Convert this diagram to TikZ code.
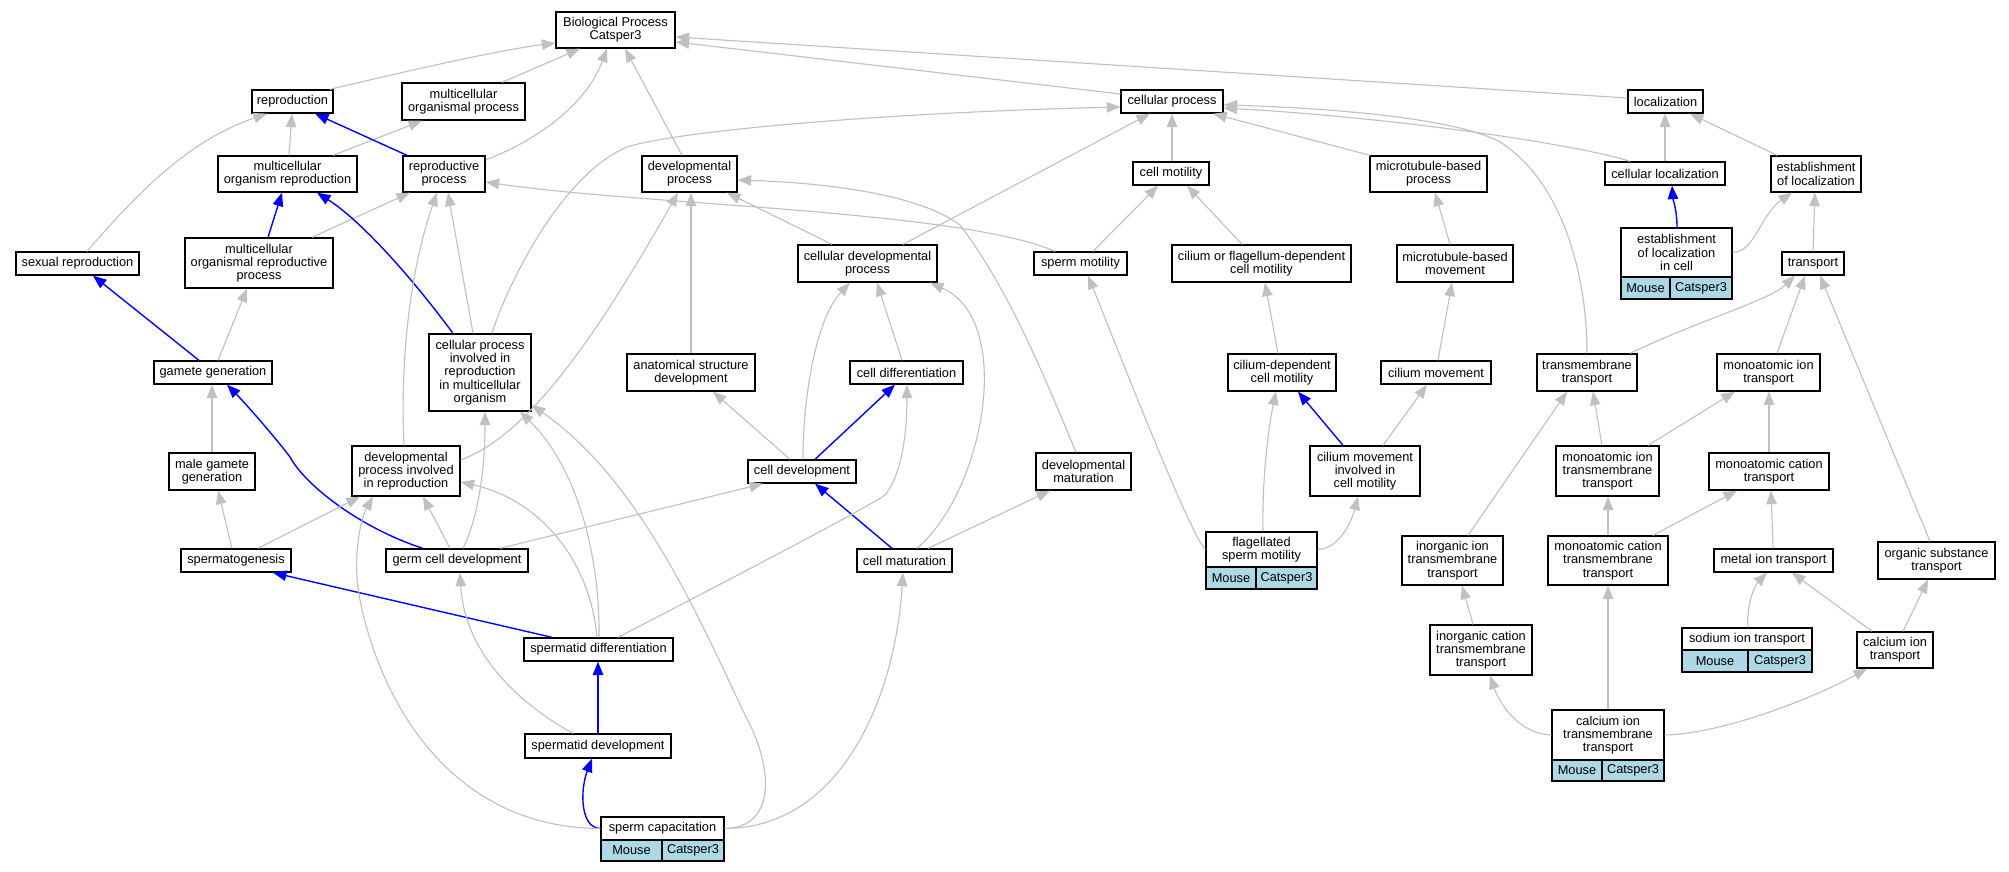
\documentclass[tikz,border=0pt]{standalone}
\usepackage{fontspec}
\setmainfont{Liberation Sans}
\usetikzlibrary{arrows.meta}
\definecolor{edgegray}{HTML}{C0C0C0}
\definecolor{cellblue}{HTML}{ADD8E6}
\newcommand\gvfont{\fontsize{12.8pt}{13.3pt}\selectfont}
\newcommand\gvbox[6]{\node[box,minimum width=#4pt,minimum height=#5pt] (#1) at (#2,#3) {#6};}
\newcommand\gvcell[6]{\node[cell,minimum width=#4pt,minimum height=#5pt] (#1) at (#2,#3) {#6};}
\begin{document}
\begin{tikzpicture}[x=1pt,y=-1pt,
 box/.style={draw=black,line width=1.3pt,fill=white,rectangle,align=center,inner sep=0pt,font=\gvfont},
 cell/.style={box,fill=cellblue},
 ge/.style={draw=edgegray,line width=1.1pt,-{Triangle[length=13.5pt,width=10.5pt]}},
 be/.style={draw=blue,line width=1.4pt,-{Triangle[length=13.5pt,width=10.5pt]}}]
\fill[white] (0,0) rectangle (2009,872);
\useasboundingbox (0,0) rectangle (2009,872);
% nodes
\gvbox{bp}{615.5}{30}{119}{36}{Biological Process\\Catsper3}
\gvbox{repro}{292.5}{101.5}{81}{23}{reproduction}
\gvbox{mop}{463.5}{101.5}{123}{37}{multicellular\\organismal process}
\gvbox{mor}{287.5}{174}{139}{36}{multicellular\\organism reproduction}
\gvbox{rp}{444}{174}{82}{36}{reproductive\\process}
\gvbox{morp}{259}{263}{148}{50}{multicellular\\organismal reproductive\\process}
\gvbox{sexr}{77.5}{263.5}{123}{23}{sexual reproduction}
\gvbox{gg}{213}{372.5}{118}{23}{gamete generation}
\gvbox{cpir}{480}{372.5}{102}{77}{cellular process\\involved in\\reproduction\\in multicellular\\organism}
\gvbox{dp}{689.5}{174}{95}{36}{developmental\\process}
\gvbox{cdp}{867.5}{263.5}{139}{37}{cellular developmental\\process}
\gvbox{asd}{691}{372.5}{128}{37}{anatomical structure\\development}
\gvbox{cdiff}{906.5}{372.5}{113}{23}{cell differentiation}
\gvbox{cp}{1172}{101.5}{102}{23}{cellular process}
\gvbox{cm}{1171}{173.5}{76}{23}{cell motility}
\gvbox{mbp}{1428.5}{174}{117}{36}{microtubule-based\\process}
\gvbox{sm}{1080.5}{263.5}{93}{23}{sperm motility}
\gvbox{cfdcm}{1261.5}{263.5}{179}{37}{cilium or flagellum-dependent\\cell motility}
\gvbox{mbm}{1455}{263.5}{116}{37}{microtubule-based\\movement}
\gvbox{cdcm}{1282}{372.5}{108}{37}{cilium-dependent\\cell motility}
\gvbox{cmov}{1436}{372.5}{110}{23}{cilium movement}
\gvbox{loc}{1665.5}{101.5}{75}{23}{localization}
\gvbox{cloc}{1665}{173.5}{120}{23}{cellular localization}
\gvbox{eloc}{1816}{174}{90}{36}{establishment\\of localization}
\gvbox{elic}{1676.5}{252.5}{111}{49}{establishment\\of localization\\in cell}
\gvcell{elicM}{1645.5}{288}{49}{22}{Mouse}
\gvcell{elicC}{1701}{288}{62}{22}{Catsper3}
\gvbox{transp}{1813}{263.5}{62}{23}{transport}
\gvbox{tmt}{1587}{372.5}{100}{37}{transmembrane\\transport}
\gvbox{mit}{1768.5}{372.5}{103}{37}{monoatomic ion\\transport}
\gvbox{mgg}{212}{471.5}{86}{37}{male gamete\\generation}
\gvbox{dpir}{406}{471}{108}{50}{developmental\\process involved\\in reproduction}
\gvbox{sperm}{236}{560.5}{110}{23}{spermatogenesis}
\gvbox{gcd}{457}{560.5}{142}{23}{germ cell development}
\gvbox{cdev}{802}{471.5}{108}{23}{cell development}
\gvbox{cmat}{904.5}{560.5}{95}{23}{cell maturation}
\gvbox{sdiff}{598.5}{649.5}{149}{23}{spermatid differentiation}
\gvbox{sdev}{598}{746}{146}{24}{spermatid development}
\gvbox{scap}{662.5}{828.5}{123}{23}{sperm capacitation}
\gvcell{scapM}{631.5}{850.5}{61}{21}{Mouse}
\gvcell{scapC}{693}{850.5}{62}{21}{Catsper3}
\gvbox{dmat}{1083.5}{471.5}{95}{37}{developmental\\maturation}
\gvbox{cmicm}{1365}{471}{110}{50}{cilium movement\\involved in\\cell motility}
\gvbox{fsm}{1261.5}{549.5}{111}{35}{flagellated\\sperm motility}
\gvcell{fsmM}{1231}{578}{50}{22}{Mouse}
\gvcell{fsmC}{1286.5}{578}{61}{22}{Catsper3}
\gvbox{iitt}{1452.5}{560.5}{101}{49}{inorganic ion\\transmembrane\\transport}
\gvbox{icatt}{1481}{650}{102}{50}{inorganic cation\\transmembrane\\transport}
\gvbox{mitt}{1607.5}{471}{103}{50}{monoatomic ion\\transmembrane\\transport}
\gvbox{mct}{1769}{471.5}{120}{37}{monoatomic cation\\transport}
\gvbox{mctt}{1608}{560.5}{120}{49}{monoatomic cation\\transmembrane\\transport}
\gvbox{mett}{1773.5}{560.5}{119}{23}{metal ion transport}
\gvbox{ost}{1936.5}{560.5}{117}{37}{organic substance\\transport}
\gvbox{sit}{1747}{639}{130}{22}{sodium ion transport}
\gvcell{sitM}{1715}{661}{66}{22}{Mouse}
\gvcell{sitC}{1780}{661}{64}{22}{Catsper3}
\gvbox{cit}{1895}{650}{76}{36}{calcium ion\\transport}
\gvbox{citt}{1608}{735}{112}{50}{calcium ion\\transmembrane\\transport}
\gvcell{cittM}{1577}{770.5}{50}{21}{Mouse}
\gvcell{cittC}{1633}{770.5}{62}{21}{Catsper3}
% edges to Biological Process
\draw[ge] ([xshift=37.5pt]repro.north) .. controls (420,68) and (500,50) .. ([yshift=-13pt]bp.west);
\draw[ge] ([xshift=38.5pt]mop.north) -- ([xshift=-35.5pt]bp.south);
\draw[ge] ([yshift=14pt]rp.east) .. controls (545,137) and (588,100) .. ([xshift=-8.5pt]bp.south);
\draw[ge] ([xshift=-7.5pt]dp.north) -- ([xshift=9.5pt]bp.south);
\draw[ge] ([yshift=7.5pt]cp.west) -- ([yshift=-12pt]bp.east);
\draw[ge] ([yshift=3.5pt]loc.west) -- ([yshift=-7pt]bp.east);
% reproduction branch
\draw[ge] ([xshift=1.5pt]mor.north) -- ([xshift=-0.5pt]repro.south);
\draw[ge] ([xshift=45.5pt]mor.north) -- ([xshift=-41.5pt]mop.south);
\draw[be] ([xshift=-37pt]rp.north) -- ([xshift=22.5pt]repro.south);
\draw[ge] ([xshift=9.5pt]sexr.north) .. controls (140,190) and (190,140) .. ([xshift=-25.5pt]repro.south);
\draw[be] ([xshift=9pt]morp.north) -- ([xshift=-5.5pt]mor.south);
\draw[ge] ([xshift=53pt]morp.north) -- ([xshift=-34pt]rp.south);
\draw[be] ([xshift=-27pt]cpir.north) .. controls (410,275) and (360,220) .. ([xshift=29.5pt]mor.south);
\draw[ge] ([xshift=-7pt]cpir.north) -- ([xshift=4pt]rp.south);
\draw[ge] ([xshift=-2pt]dpir.north) .. controls (400,360) and (410,270) .. ([xshift=-7pt]rp.south);
\draw[ge] ([xshift=12pt]cpir.north) .. controls (505,290) and (560,175) .. (627,147) .. controls (680,130) and (900,112) .. ([yshift=-5.5pt]cp.west);
\draw[ge] ([xshift=-25.5pt]sm.north) .. controls (960,210) and (640,205) .. ([yshift=-8pt]rp.east);
% developmental process
\draw[ge] ([yshift=11pt]dpir.east) .. controls (530,435) and (600,330) .. ([xshift=-11.5pt]dp.south);
\draw[ge] (asd.north) -- ([xshift=1.5pt]dp.south);
\draw[ge] ([xshift=-35.5pt]cdp.north) -- ([xshift=37.5pt]dp.south);
\draw[ge] ([xshift=-7.5pt]dmat.north) .. controls (1050,390) and (1010,290) .. (960,225) .. controls (920,195) and (830,183) .. ([yshift=-6pt]dp.east);
% cellular process
\draw[ge] ([xshift=35.5pt]cdp.north) -- ([xshift=-22pt]cp.south);
\draw[ge] ([xshift=1pt]cm.north) -- (cp.south);
\draw[ge] ([xshift=-58.5pt]mbp.north) -- ([xshift=41pt]cp.south);
\draw[ge] (tmt.north) .. controls (1587,270) and (1560,180) .. (1500,142) .. controls (1450,115) and (1300,107) .. ([yshift=-3.5pt]cp.east);
\draw[ge] ([xshift=-35pt]cloc.north) .. controls (1580,145) and (1400,118) .. ([yshift=-6.5pt]cp.east);
% motility
\draw[ge] ([xshift=12.5pt]sm.north) -- ([xshift=-13pt]cm.south);
\draw[ge] ([xshift=-19.5pt]cfdcm.north) -- ([xshift=16pt]cm.south);
\draw[ge] ([xshift=-5pt]mbm.north) -- ([xshift=6.5pt]mbp.south);
\draw[ge] ([xshift=-4pt]cdcm.north) -- ([xshift=3.5pt]cfdcm.south);
\draw[ge] ([xshift=2pt]cmov.north) -- ([xshift=-3pt]mbm.south);
\draw[be] ([xshift=-22pt]cmicm.north) -- ([xshift=16pt]cdcm.south);
\draw[ge] ([xshift=18pt]cmicm.north) -- ([xshift=-9pt]cmov.south);
\draw[ge] ([xshift=1.5pt]fsm.north) .. controls (1262,480) and (1268,430) .. ([xshift=-6pt]cdcm.south);
\draw[ge] (fsm.east) .. controls (1340,549) and (1352,520) .. ([xshift=-7pt]cmicm.south);
\draw[ge] (fsm.west) .. controls (1190,535) and (1118,350) .. ([xshift=7.5pt]sm.south);
% localization and transport
\draw[ge] (cloc.north) -- ([xshift=-0.5pt]loc.south);
\draw[ge] ([xshift=-39pt]eloc.north) -- ([xshift=24.5pt]loc.south);
\draw[be] ([xshift=0.5pt]elic.north) .. controls (1677,210) and (1673,200) .. ([xshift=7pt]cloc.south);
\draw[ge] (elic.east) .. controls (1755,252) and (1760,215) .. ([xshift=-24pt]eloc.south);
\draw[ge] (transp.north) -- ([xshift=-1pt]eloc.south);
\draw[ge] ([xshift=43pt]tmt.north) .. controls (1700,320) and (1770,300) .. ([xshift=-18pt]transp.south);
\draw[ge] ([xshift=8.5pt]mit.north) -- ([xshift=-8pt]transp.south);
\draw[ge] ([xshift=-6.5pt]ost.north) -- ([xshift=7pt]transp.south);
\draw[ge] ([xshift=-5.5pt]mitt.north) -- ([xshift=6pt]tmt.south);
\draw[ge] ([xshift=40.5pt]mitt.north) -- ([xshift=-33.5pt]mit.south);
\draw[ge] ([xshift=15.5pt]iitt.north) -- ([xshift=-20pt]tmt.south);
\draw[ge] (mct.north) -- ([xshift=0.5pt]mit.south);
\draw[ge] (mctt.north) -- ([xshift=0.5pt]mitt.south);
\draw[ge] ([xshift=45pt]mctt.north) -- ([xshift=-32pt]mct.south);
\draw[ge] ([xshift=-0.5pt]mett.north) -- ([xshift=2pt]mct.south);
\draw[ge] ([xshift=-8pt]icatt.north) -- ([xshift=9.5pt]iitt.south);
\draw[ge] (citt.west) .. controls (1520,734) and (1500,705) .. ([xshift=9pt]icatt.south);
\draw[ge] (citt.north) -- (mctt.south);
\draw[ge] (citt.east) .. controls (1720,734) and (1810,700) .. ([xshift=-28pt]cit.south);
\draw[ge] ([xshift=1pt]sit.north) .. controls (1746,605) and (1755,585) .. ([xshift=-6.5pt]mett.south);
\draw[ge] ([xshift=-23pt]cit.north) -- ([xshift=18.5pt]mett.south);
\draw[ge] ([xshift=8pt]cit.north) -- ([xshift=-8.5pt]ost.south);
% gametes and spermatids
\draw[be] ([xshift=-14pt]gg.north) -- ([xshift=15.5pt]sexr.south);
\draw[ge] ([xshift=5pt]gg.north) -- ([xshift=-12pt]morp.south);
\draw[ge] (mgg.north) -- ([xshift=-1pt]gg.south);
\draw[be] ([xshift=-34pt]gcd.north) .. controls (360,528) and (305,485) .. (290,457) .. controls (275,437) and (245,403) .. ([xshift=14pt]gg.south);
\draw[ge] ([xshift=-4pt]sperm.north) -- ([xshift=6pt]mgg.south);
\draw[ge] ([xshift=22pt]sperm.north) -- ([xshift=-46pt]dpir.south);
\draw[ge] ([xshift=-7pt]gcd.north) -- ([xshift=17pt]dpir.south);
\draw[ge] ([xshift=6pt]gcd.north) .. controls (475,525) and (485,480) .. ([xshift=5pt]cpir.south);
\draw[ge] ([xshift=43pt]gcd.north) -- ([xshift=-39pt]cdev.south);
\draw[be] ([xshift=-46.5pt]sdiff.north) -- ([xshift=37pt]sperm.south);
\draw[ge] ([xshift=-1.5pt]sdiff.north) .. controls (590,560) and (540,500) .. ([yshift=-11pt]dpir.east);
\draw[ge] ([xshift=0.5pt]sdiff.north) .. controls (600,540) and (570,460) .. ([xshift=40pt]cpir.south);
\draw[ge] (scap.east) .. controls (775,828) and (775,770) .. (745,715) .. controls (700,620) and (640,480) .. ([yshift=-32.5pt]cpir.east);
\draw[be] (scap.west) .. controls (580,828) and (580,790) .. ([xshift=-6pt]sdev.south);
\draw[be] (sdev.north) -- ([xshift=-0.5pt]sdiff.south);
\draw[ge] (scap.east) .. controls (840,828) and (895,700) .. ([xshift=-1.5pt]cmat.south);
\draw[ge] (scap.west) .. controls (450,828) and (380,700) .. (360,600) .. controls (352,560) and (360,520) .. ([xshift=-33pt]dpir.south);
\draw[ge] ([xshift=-25pt]sdev.north) .. controls (530,710) and (465,660) .. ([xshift=3pt]gcd.south);
% cell development
\draw[be] ([xshift=-12.5pt]cmat.north) -- ([xshift=13pt]cdev.south);
\draw[ge] ([xshift=12.5pt]cmat.north) .. controls (985,490) and (1015,320) .. ([xshift=62.5pt]cdp.south);
\draw[ge] ([xshift=23.5pt]cmat.north) -- ([xshift=-33.5pt]dmat.south);
\draw[ge] ([xshift=19.5pt]sdiff.north) .. controls (750,569) and (870,506) .. (885,495) .. controls (905,470) and (907,420) .. ([xshift=0.5pt]cdiff.south);
\draw[be] ([xshift=13pt]cdev.north) -- ([xshift=-11.5pt]cdiff.south);
\draw[ge] ([xshift=-12pt]cdev.north) -- ([xshift=22pt]asd.south);
\draw[ge] ([xshift=1pt]cdev.north) .. controls (803,400) and (815,320) .. ([xshift=-17.5pt]cdp.south);
\draw[ge] ([xshift=-4.5pt]cdiff.north) -- ([xshift=9.5pt]cdp.south);
\end{tikzpicture}
\end{document}
